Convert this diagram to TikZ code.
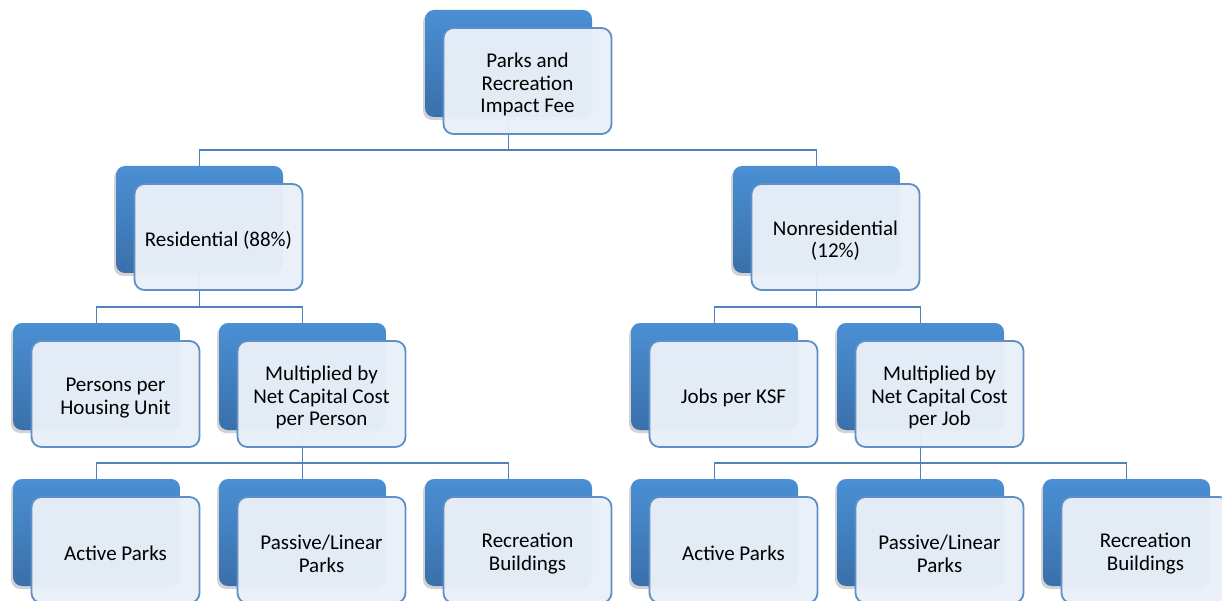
\documentclass[tikz,border=0pt]{standalone}
\usepackage{fontspec}
\setmainfont{Carlito}
\usetikzlibrary{shadows}
\definecolor{backtop}{HTML}{4A8FD4}
\definecolor{backbot}{HTML}{3A70AA}
\definecolor{frontfill}{HTML}{EAF0F8}
\definecolor{frontline}{HTML}{5F8FC6}
\definecolor{linkcol}{HTML}{4F81BD}
\newcommand{\topgap}{\rule{0pt}{22pt}}
\tikzset{
  backbox/.style={rectangle, rounded corners=9pt, minimum width=167pt, minimum height=107pt,
    top color=backtop, bottom color=backbot, draw=none,
    drop shadow={shadow xshift=-2pt, shadow yshift=-3pt, opacity=0.35}},
  frontbox/.style={rectangle, rounded corners=10pt, minimum width=168pt, minimum height=106pt,
    draw=frontline, line width=1.8pt, fill=frontfill, fill opacity=0.96, text opacity=1,
    align=center, font=\fontsize{21}{22.5}\selectfont},
  link/.style={draw=linkcol, line width=1.8pt}
}
\begin{document}
\begin{tikzpicture}[x=1pt,y=-1pt]
      \useasboundingbox[fill=white] (0,0) rectangle (1222,601);
      % back boxes
      \node[backbox] (fee-b) at (508.5,63.5) {};
      \node[backbox] (res-b) at (199.5,219.5) {}; \node[backbox] (non-b) at (816.5,219.5) {};
      \node[backbox] (pers-b) at (96.5,376.5) {}; \node[backbox] (mulr-b) at (302.5,376.5) {};
      \node[backbox] (jobs-b) at (714.5,376.5) {}; \node[backbox] (mulj-b) at (920.5,376.5) {};
      \node[backbox] (actr-b) at (96.5,532.5) {}; \node[backbox] (pasr-b) at (302.5,532.5) {};
      \node[backbox] (recr-b) at (508.5,532.5) {}; \node[backbox] (actj-b) at (714.5,532.5) {};
      \node[backbox] (pasj-b) at (920.5,532.5) {}; \node[backbox] (recj-b) at (1126.5,532.5) {};
      % connectors
      \draw[link] (res-b.north) -- ++(0,-16) -| (fee-b.south); \draw[link] (non-b.north) -- ++(0,-16) -| (fee-b.south);
      \draw[link] (pers-b.north) -- ++(0,-16) -| (res-b.south); \draw[link] (mulr-b.north) -- ++(0,-16) -| (res-b.south);
      \draw[link] (jobs-b.north) -- ++(0,-16) -| (non-b.south); \draw[link] (mulj-b.north) -- ++(0,-16) -| (non-b.south);
      \draw[link] (actr-b.north) -- ++(0,-16) -| (mulr-b.south); \draw[link] (pasr-b.north) -- ++(0,-16) -| (mulr-b.south);
      \draw[link] (recr-b.north) -- ++(0,-16) -| (mulr-b.south);
      \draw[link] (actj-b.north) -- ++(0,-16) -| (mulj-b.south); \draw[link] (pasj-b.north) -- ++(0,-16) -| (mulj-b.south);
      \draw[link] (recj-b.north) -- ++(0,-16) -| (mulj-b.south);
      % front boxes
      \node[frontbox] (fee) at (527.5,81) {\topgap Parks and\\Recreation\\Impact Fee};
      \node[frontbox] (res) at (218.5,237) {\topgap Residential (88\%)}; \node[frontbox] (non) at (835.5,237) {\topgap Nonresidential\\(12\%)};
      \node[frontbox] (pers) at (115.5,394) {\topgap Persons per\\Housing Unit};
      \node[frontbox] (mulr) at (321.5,394) {\topgap Multiplied by\\Net Capital Cost\\per Person};
      \node[frontbox] (jobs) at (733.5,394) {\topgap Jobs per KSF};
      \node[frontbox] (mulj) at (939.5,394) {\topgap Multiplied by\\Net Capital Cost\\per Job};
      \node[frontbox] (actr) at (115.5,550) {\topgap Active Parks}; \node[frontbox] (pasr) at (321.5,550) {\topgap Passive/Linear\\Parks};
      \node[frontbox] (recr) at (527.5,550) {\topgap Recreation\\Buildings}; \node[frontbox] (actj) at (733.5,550) {\topgap Active Parks};
      \node[frontbox] (pasj) at (939.5,550) {\topgap Passive/Linear\\Parks}; \node[frontbox] (recj) at (1145.5,550) {\topgap Recreation\\Buildings};
\end{tikzpicture}
\end{document}
